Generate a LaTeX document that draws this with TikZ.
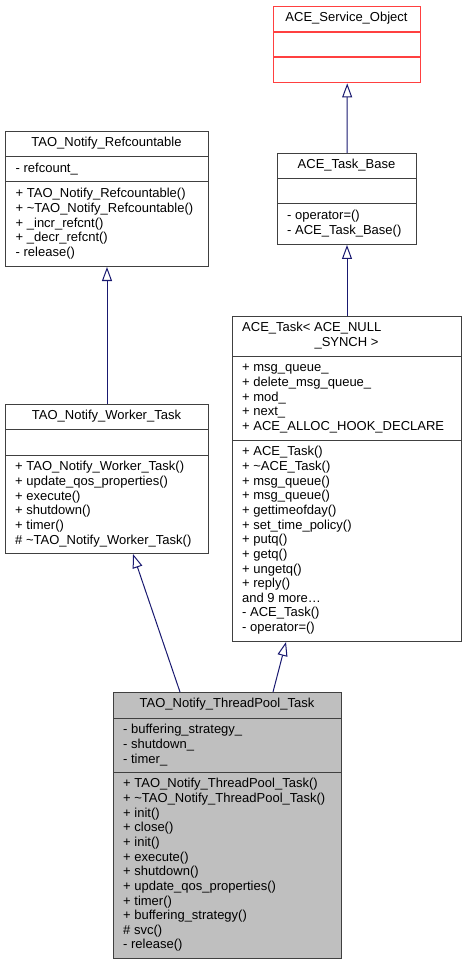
\documentclass[tikz,border=0pt]{standalone}
\usepackage{fontspec}
\setmainfont{Liberation Sans}
\usetikzlibrary{arrows.meta}
\definecolor{edgeblue}{HTML}{191970}
\definecolor{boxgray}{HTML}{BFBFBF}
\definecolor{boxline}{HTML}{404040}
\definecolor{boxred}{HTML}{FF4040}

\begin{document}
\begin{tikzpicture}[x=1pt,y=-1pt,
  classbox/.style={draw=boxline,line width=1pt,anchor=north west,inner sep=0pt},
  divider/.style={draw=boxline,line width=1pt},
  txt/.style={anchor=base west,inner sep=0pt,font=\fontsize{13}{14.65}\selectfont},
  ttl/.style={anchor=base,inner sep=0pt,font=\fontsize{13}{14.65}\selectfont},
  inherit/.style={draw=edgeblue,line width=1pt,-{Triangle[open,length=14pt,width=10pt]}}]
\useasboundingbox (0,0) rectangle (467,965);

% boxes
\node[classbox,draw=boxred,line width=1.4pt,minimum width=147pt,minimum height=76pt] (svc) at (273,6) {};
\node[classbox,minimum width=139pt,minimum height=91pt] (tbase) at (277,153) {};
\node[classbox,minimum width=203pt,minimum height=135pt] (refc) at (5,131) {};
\node[classbox,minimum width=229pt,minimum height=325pt] (task) at (232,316) {};
\node[classbox,minimum width=203pt,minimum height=149pt] (worker) at (5,404) {};
\node[classbox,fill=boxgray,minimum width=228pt,minimum height=266pt] (tp) at (113,692) {};

% section lines
\draw[divider,draw=boxred,line width=1.4pt] (svc.west |- 0,32) -- (svc.east |- 0,32);
\draw[divider,draw=boxred,line width=1.4pt] (svc.west |- 0,57) -- (svc.east |- 0,57);
\draw[divider] (tbase.west |- 0,179) -- (tbase.east |- 0,179);
\draw[divider] (tbase.west |- 0,204) -- (tbase.east |- 0,204);
\draw[divider] (refc.west |- 0,157) -- (refc.east |- 0,157);
\draw[divider] (refc.west |- 0,182) -- (refc.east |- 0,182);
\draw[divider] (task.west |- 0,356) -- (task.east |- 0,356);
\draw[divider] (task.west |- 0,440) -- (task.east |- 0,440);
\draw[divider] (worker.west |- 0,429) -- (worker.east |- 0,429);
\draw[divider] (worker.west |- 0,455) -- (worker.east |- 0,455);
\draw[divider] (tp.west |- 0,718) -- (tp.east |- 0,718);
\draw[divider] (tp.west |- 0,772) -- (tp.east |- 0,772);

% titles
\node[ttl] (svct) at (346.5,21.8) {ACE\_Service\_Object};
\node[ttl] (tbaset) at (346.5,168.8) {ACE\_Task\_Base};
\node[ttl] (refct) at (106.5,146.8) {TAO\_Notify\_Refcountable};
\node[txt] (taskt) at (242,331.8) {ACE\_Task< ACE\_NULL};
\node[ttl] (tasktb) at (346.5,346.4) {\_SYNCH >};
\node[ttl] (workert) at (106.5,419.8) {TAO\_Notify\_Worker\_Task};
\node[ttl] (tpt) at (227,707.8) {TAO\_Notify\_ThreadPool\_Task};

% members
\foreach \t [count=\i] in {- operator=(), - ACE\_Task\_Base()}
  \node[txt] (tbasem\i) at (287,{219.8+(\i-1)*14.65}) {\t};
\node[txt] (refca1) at (15.5,172.8) {- refcount\_};
\foreach \t [count=\i] in {+ TAO\_Notify\_Refcountable(), + \textasciitilde TAO\_Notify\_Refcountable(),
    + \_incr\_refcnt(), + \_decr\_refcnt(), - release()}
  \node[txt] (refcm\i) at (15.5,{197.8+(\i-1)*14.65}) {\t};
\foreach \t [count=\i] in {+ msg\_queue\_, + delete\_msg\_queue\_, + mod\_, + next\_,
    + ACE\_ALLOC\_HOOK\_DECLARE}
  \node[txt] (taska\i) at (242,{371.8+(\i-1)*14.65}) {\t};
\foreach \t [count=\i] in {+ ACE\_Task(), + \textasciitilde ACE\_Task(), + msg\_queue(), + msg\_queue(),
    + gettimeofday(), + set\_time\_policy(), + putq(), + getq(), + ungetq(), + reply(),
    and 9 more\dots, - ACE\_Task(), - operator=()}
  \node[txt] (taskm\i) at (242,{455.8+(\i-1)*14.65}) {\t};
\foreach \t [count=\i] in {+ TAO\_Notify\_Worker\_Task(), + update\_qos\_properties(), + execute(),
    + shutdown(), + timer(), \# \textasciitilde TAO\_Notify\_Worker\_Task()}
  \node[txt] (workerm\i) at (15,{470.8+(\i-1)*14.65}) {\t};
\foreach \t [count=\i] in {- buffering\_strategy\_, - shutdown\_, - timer\_}
  \node[txt] (tpa\i) at (123,{733.8+(\i-1)*14.65}) {\t};
\foreach \t [count=\i] in {+ TAO\_Notify\_ThreadPool\_Task(), + \textasciitilde TAO\_Notify\_ThreadPool\_Task(),
    + init(), + close(), + init(), + execute(), + shutdown(), + update\_qos\_properties(),
    + timer(), + buffering\_strategy(), \# svc(), - release()}
  \node[txt] (tpm\i) at (123,{787.8+(\i-1)*14.65}) {\t};

% inheritance
\draw[inherit] (tbase.north) -- (svc.south);
\draw[inherit] (task.north) -- (tbase.south);
\draw[inherit] (worker.north) -- (refc.south);
\draw[inherit] ([xshift=67pt]tp.north west) -- ([xshift=128pt]worker.south west);
\draw[inherit] ([xshift=160pt]tp.north west) -- ([xshift=54pt]task.south west);
\end{tikzpicture}
\end{document}
